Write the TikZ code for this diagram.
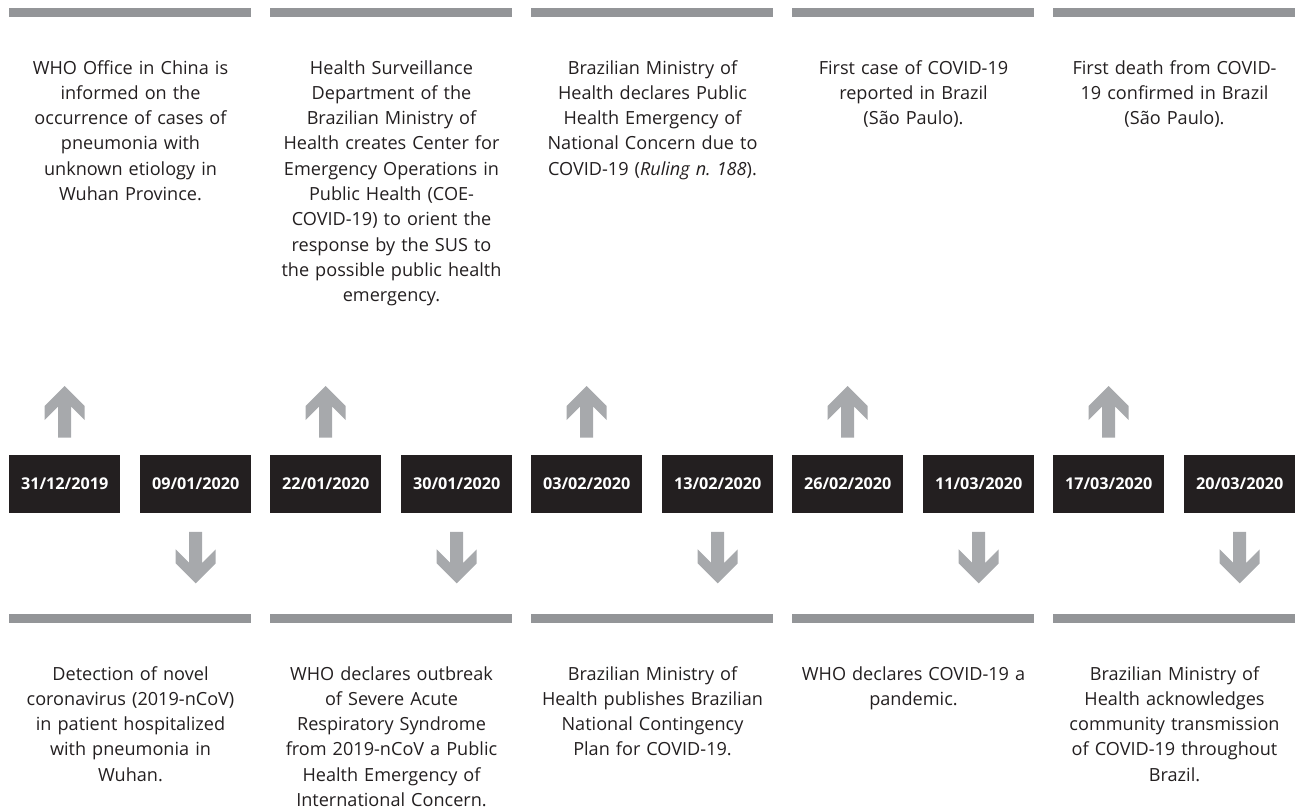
\documentclass[tikz,border=0pt]{standalone}
\usepackage{fontspec}
\setmainfont{Open Sans}
\frenchspacing
\definecolor{bargray}{HTML}{939598}
\definecolor{arrowgray}{HTML}{A7A9AC}
\definecolor{boxblack}{HTML}{231F20}
\definecolor{txt}{HTML}{231F20}
\tikzset{
  bar/.style={fill=bargray, draw=none},
  datebox/.style={fill=boxblack, draw=none, text=white, minimum width=111pt, minimum height=58pt, inner sep=0pt, font=\fontsize{16.2}{18}\selectfont\bfseries},
  desc/.style={text=txt, text width=262pt, align=center, anchor=base, inner sep=0pt, font=\fontsize{18.1}{25.3}\selectfont},
  garrow/.style={fill=arrowgray, draw=none}
}
\begin{document}
\begin{tikzpicture}[x=1pt,y=-1pt]
\path[use as bounding box] (0,0) rectangle (1296,811);
% bars and date boxes
\foreach \i/\da/\db in {0/31\slash12\slash2019/09\slash01\slash2020,1/22\slash01\slash2020/30\slash01\slash2020,2/03\slash02\slash2020/13\slash02\slash2020,3/26\slash02\slash2020/11\slash03\slash2020,4/17\slash03\slash2020/20\slash03\slash2020}{
  \pgfmathsetmacro{\xl}{9+261*\i}
  \fill[bar] (\xl,8) rectangle ++(242,8.5);
  \fill[bar] (\xl,614) rectangle ++(242,8.5);
  \node[datebox, anchor=north west] (u\i) at (\xl,455) {\da};
  \node[datebox, anchor=north west] (l\i) at (\xl+131,455) {\db};
  % up arrow above first box
  \fill[garrow] ([yshift=69pt]u\i.north) -- ++(-20,20) -- ++(0,14) -- ++(13.5,-13.5) -- ++(0,31) -- ++(13,0) -- ++(0,-31) -- ++(13.5,13.5) -- ++(0,-14) -- cycle;
  % down arrow below second box
  \fill[garrow] ([yshift=-70pt]l\i.south) -- ++(-20,-20) -- ++(0,-14) -- ++(13.5,13.5) -- ++(0,-31) -- ++(13,0) -- ++(0,31) -- ++(13.5,-13.5) -- ++(0,14) -- cycle;
}
% top descriptions
\node[desc] (t0) at (130.5,74) {WHO Office in China is\\informed on the\\occurrence of cases of\\pneumonia with\\unknown etiology in\\Wuhan Province.};
\node[desc] (t1) at (391.5,74) {Health Surveillance\\Department of the\\Brazilian Ministry of\\Health creates Center for\\Emergency Operations in\\Public Health (COE-\\COVID-19) to orient the\\response by the SUS to\\the possible public health\\emergency.};
\node[desc] (t2) at (652.5,74) {Brazilian Ministry of\\Health declares Public\\Health Emergency of\\National Concern due to\\COVID-19 (\textit{Ruling n. 188}).};
\node[desc] (t3) at (913.5,74) {First case of COVID-19\\reported in Brazil\\(São Paulo).};
\node[desc] (t4) at (1174.5,74) {First death from COVID-\\19 confirmed in Brazil\\(São Paulo).};
% bottom descriptions
\node[desc] (b0) at (130.5,680) {Detection of novel\\coronavirus (2019-nCoV)\\in patient hospitalized\\with pneumonia in\\Wuhan.};
\node[desc] (b1) at (391.5,680) {WHO declares outbreak\\of Severe Acute\\Respiratory Syndrome\\from 2019-nCoV a Public\\Health Emergency of\\International Concern.};
\node[desc] (b2) at (652.5,680) {Brazilian Ministry of\\Health publishes Brazilian\\National Contingency\\Plan for COVID-19.};
\node[desc] (b3) at (913.5,680) {WHO declares COVID-19 a\\pandemic.};
\node[desc] (b4) at (1174.5,680) {Brazilian Ministry of\\Health acknowledges\\community transmission\\of COVID-19 throughout\\Brazil.};
\end{tikzpicture}
\end{document}
